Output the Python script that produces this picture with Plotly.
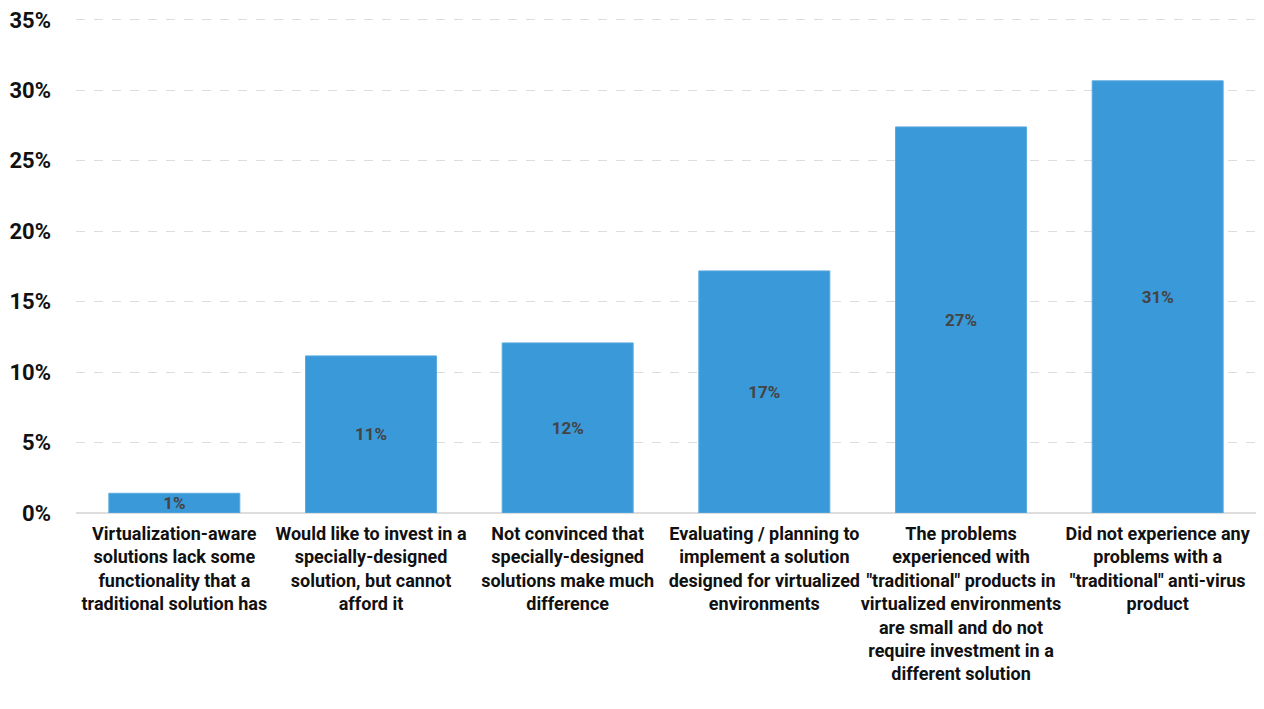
import plotly.graph_objects as go

categories = [
    "Virtualization-aware<br>solutions lack some<br>functionality that a<br>traditional solution has",
    "Would like to invest in a<br>specially-designed<br>solution, but cannot<br>afford it",
    "Not convinced that<br>specially-designed<br>solutions make much<br>difference",
    "Evaluating / planning to<br>implement a solution<br>designed for virtualized<br>environments",
    "The problems<br>experienced with<br>\"traditional\" products in<br>virtualized environments<br>are small and do not<br>require investment in a<br>different solution",
    "Did not experience any<br>problems with a<br>\"traditional\" anti-virus<br>product",
]
values = [1.4, 11.15, 12.07, 17.18, 27.4, 30.67]
labels = ["1%", "11%", "12%", "17%", "27%", "31%"]
tick_vals = [0, 5, 10, 15, 20, 25, 30, 35]
tick_text = ["0%", "5%", "10%", "15%", "20%", "25%", "30%", "35%"]

FONT = "Roboto, Liberation Sans, sans-serif"

fig = go.Figure(go.Bar(
    x=categories, y=values, text=labels,
    textposition="inside", insidetextanchor="middle", constraintext="none",
    textfont=dict(family=FONT, size=17, color="#444444", weight="bold"),
    marker=dict(color="#3a99d8", line=dict(color="#5aaae0", width=1)),
    width=0.666, hoverinfo="skip",
))

fig.update_layout(
    width=1264, height=709,
    margin=dict(l=68, r=16, t=9, b=204),
    plot_bgcolor="white", paper_bgcolor="white",
    showlegend=False,
    font=dict(family=FONT, color="#111111"),
)
fig.update_xaxes(
    tickfont=dict(family=FONT, size=18, color="#111111", weight="bold"),
    showgrid=False, showline=False, ticks="", tickangle=0,
    ticklabelstandoff=8, automargin=False,
)
fig.update_yaxes(
    range=[0, 35.2], tickvals=tick_vals, ticktext=tick_text,
    tickfont=dict(family=FONT, size=22, color="#111111", weight="bold"),
    showgrid=True, gridcolor="#dddddd", griddash="dash", gridwidth=1,
    zeroline=True, zerolinecolor="#dddddd", zerolinewidth=2,
    ticklabelstandoff=24, showline=False, automargin=False,
    ticklabeloverflow="allow",
)

fig.write_html("out.html")
